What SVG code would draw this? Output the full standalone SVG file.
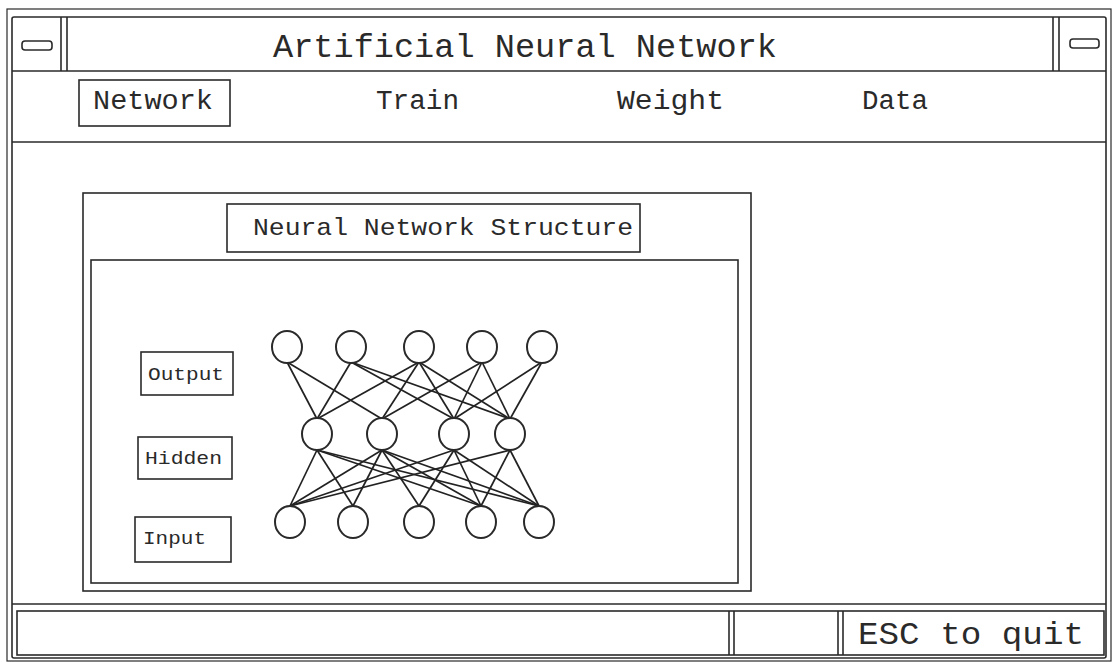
<svg xmlns="http://www.w3.org/2000/svg" width="1113" height="662" viewBox="0 0 1113 662">
<style>
.ln{fill:none;stroke:#2a2a2a;stroke-width:1.6}
.lt{fill:none;stroke:#2a2a2a;stroke-width:1.2}
.bx{fill:#fff;stroke:#2a2a2a;stroke-width:1.6}
.nd{fill:#fff;stroke:#2a2a2a;stroke-width:2}
.tx{font-family:"Liberation Mono","Courier New",monospace;fill:#2a2a2a}
.cn{stroke:#222;stroke-width:1.7;fill:none}
</style>
<rect width="1113" height="662" fill="#fff"/>
<g id="window">
<rect class="lt" x="7" y="9" width="1104" height="652"/>
<rect class="ln" x="12" y="17" width="1094" height="641" rx="2"/>
<line class="ln" x1="12" y1="71" x2="1106" y2="71"/>
<line class="ln" x1="61" y1="17" x2="61" y2="71"/>
<line class="ln" x1="67" y1="17" x2="67" y2="71"/>
<line class="ln" x1="1053" y1="17" x2="1053" y2="71"/>
<line class="ln" x1="1059" y1="17" x2="1059" y2="71"/>
<rect class="ln" x="22" y="41" width="30" height="9" rx="3"/>
<rect class="ln" x="1070" y="39" width="29" height="9" rx="3"/>
<text class="tx" x="273" y="57" font-size="34" textLength="504" lengthAdjust="spacingAndGlyphs">Artificial Neural Network</text>
<line class="ln" x1="12" y1="142" x2="1106" y2="142"/>
</g>
<g id="menu">
<rect class="bx" x="79" y="80" width="151" height="46"/>
<text class="tx" x="93" y="109" font-size="27" textLength="120" lengthAdjust="spacingAndGlyphs">Network</text>
<text class="tx" x="376" y="109" font-size="27" textLength="83" lengthAdjust="spacingAndGlyphs">Train</text>
<text class="tx" x="617" y="109" font-size="27" textLength="107" lengthAdjust="spacingAndGlyphs">Weight</text>
<text class="tx" x="862" y="109" font-size="27" textLength="66" lengthAdjust="spacingAndGlyphs">Data</text>
</g>
<g id="panel">
<rect class="ln" x="83" y="193" width="668" height="398"/>
<rect class="bx" x="227" y="204" width="413" height="48"/>
<text class="tx" x="253" y="235" font-size="24" textLength="380" lengthAdjust="spacingAndGlyphs">Neural Network Structure</text>
<rect class="ln" x="91" y="260" width="647" height="323" stroke-width="2.2"/>
</g>
<g id="label-output"><rect class="bx" x="141" y="352" width="92" height="43"/><text class="tx" x="148" y="380" font-size="19" textLength="76" lengthAdjust="spacingAndGlyphs">Output</text></g>
<g id="label-hidden"><rect class="bx" x="138" y="437" width="94" height="42"/><text class="tx" x="145" y="464" font-size="19" textLength="77" lengthAdjust="spacingAndGlyphs">Hidden</text></g>
<g id="label-input"><rect class="bx" x="135" y="517" width="96" height="45"/><text class="tx" x="143" y="544" font-size="19" textLength="63" lengthAdjust="spacingAndGlyphs">Input</text></g>
<g id="connectors">
<line class="cn" x1="287" y1="362" x2="317" y2="419"/>
<line class="cn" x1="287" y1="362" x2="382" y2="419"/>
<line class="cn" x1="351" y1="362" x2="317" y2="419"/>
<line class="cn" x1="351" y1="362" x2="454" y2="419"/>
<line class="cn" x1="351" y1="362" x2="510" y2="419"/>
<line class="cn" x1="419" y1="362" x2="317" y2="419"/>
<line class="cn" x1="419" y1="362" x2="382" y2="419"/>
<line class="cn" x1="419" y1="362" x2="454" y2="419"/>
<line class="cn" x1="419" y1="362" x2="510" y2="419"/>
<line class="cn" x1="482" y1="362" x2="382" y2="419"/>
<line class="cn" x1="482" y1="362" x2="454" y2="419"/>
<line class="cn" x1="482" y1="362" x2="510" y2="419"/>
<line class="cn" x1="542" y1="362" x2="454" y2="419"/>
<line class="cn" x1="542" y1="362" x2="510" y2="419"/>
<line class="cn" x1="317" y1="450" x2="290" y2="506"/>
<line class="cn" x1="317" y1="450" x2="353" y2="506"/>
<line class="cn" x1="317" y1="450" x2="481" y2="506"/>
<line class="cn" x1="317" y1="450" x2="539" y2="506"/>
<line class="cn" x1="382" y1="450" x2="290" y2="506"/>
<line class="cn" x1="382" y1="450" x2="353" y2="506"/>
<line class="cn" x1="382" y1="450" x2="419" y2="506"/>
<line class="cn" x1="382" y1="450" x2="481" y2="506"/>
<line class="cn" x1="382" y1="450" x2="539" y2="506"/>
<line class="cn" x1="454" y1="450" x2="290" y2="506"/>
<line class="cn" x1="454" y1="450" x2="419" y2="506"/>
<line class="cn" x1="454" y1="450" x2="481" y2="506"/>
<line class="cn" x1="454" y1="450" x2="539" y2="506"/>
<line class="cn" x1="510" y1="450" x2="290" y2="506"/>
<line class="cn" x1="510" y1="450" x2="481" y2="506"/>
<line class="cn" x1="510" y1="450" x2="539" y2="506"/>
</g>
<g id="o1"><ellipse class="nd" cx="287" cy="347" rx="15" ry="16"/></g>
<g id="o2"><ellipse class="nd" cx="351" cy="347" rx="15" ry="16"/></g>
<g id="o3"><ellipse class="nd" cx="419" cy="347" rx="15" ry="16"/></g>
<g id="o4"><ellipse class="nd" cx="482" cy="347" rx="15" ry="16"/></g>
<g id="o5"><ellipse class="nd" cx="542" cy="347" rx="15" ry="16"/></g>
<g id="h1"><ellipse class="nd" cx="317" cy="434" rx="15" ry="16"/></g>
<g id="h2"><ellipse class="nd" cx="382" cy="434" rx="15" ry="16"/></g>
<g id="h3"><ellipse class="nd" cx="454" cy="434" rx="15" ry="16"/></g>
<g id="h4"><ellipse class="nd" cx="510" cy="434" rx="15" ry="16"/></g>
<g id="i1"><ellipse class="nd" cx="290" cy="522" rx="15" ry="16"/></g>
<g id="i2"><ellipse class="nd" cx="353" cy="522" rx="15" ry="16"/></g>
<g id="i3"><ellipse class="nd" cx="419" cy="522" rx="15" ry="16"/></g>
<g id="i4"><ellipse class="nd" cx="481" cy="522" rx="15" ry="16"/></g>
<g id="i5"><ellipse class="nd" cx="539" cy="522" rx="15" ry="16"/></g>
<g id="statusbar">
<line class="ln" x1="12" y1="604" x2="1106" y2="604"/>
<rect class="ln" x="17" y="611" width="1087" height="44"/>
<line class="ln" x1="729" y1="611" x2="729" y2="655"/>
<line class="ln" x1="734" y1="611" x2="734" y2="655"/>
<line class="ln" x1="838" y1="611" x2="838" y2="655"/>
<line class="ln" x1="843" y1="611" x2="843" y2="655"/>
<text class="tx" x="858" y="644" font-size="31" textLength="226" lengthAdjust="spacingAndGlyphs">ESC to quit</text>
</g>
</svg>
